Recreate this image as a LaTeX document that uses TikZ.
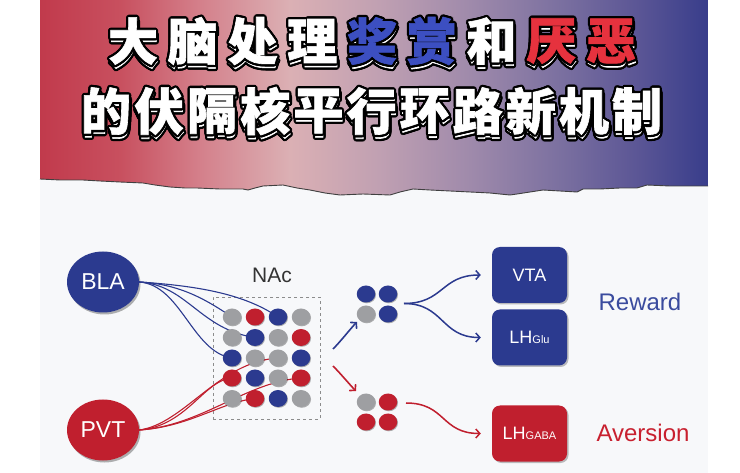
\documentclass[tikz,border=0pt]{standalone}
\usepackage{fontspec}
\setmainfont{Liberation Sans}
\newfontfamily\cjk{Noto Sans CJK SC}[BoldFeatures={FakeBold=1.2}]
\usetikzlibrary{arrows.meta,shadows,shapes.geometric}
\definecolor{bgc}{HTML}{F7F8FA}
\definecolor{hs1}{HTML}{C13A4C}
\definecolor{hs2}{HTML}{C8505F}
\definecolor{hs3}{HTML}{D4808B}
\definecolor{hs4}{HTML}{DBB0B4}
\definecolor{hs5}{HTML}{C0A0B2}
\definecolor{hs6}{HTML}{9F8AAB}
\definecolor{hs7}{HTML}{7B70A0}
\definecolor{hs8}{HTML}{5A5595}
\definecolor{hs9}{HTML}{383D8B}
\definecolor{nblue}{HTML}{2B3A8F}
\definecolor{nred}{HTML}{C01F2E}
\definecolor{ngray}{HTML}{9E9FA2}
\definecolor{tblue}{HTML}{3C4FC1}
\definecolor{tred}{HTML}{E6323E}
\definecolor{rwblue}{HTML}{3A4B9E}
\definecolor{avred}{HTML}{C8202F}
\pgfdeclarehorizontalshading{hdrshade}{100bp}{color(0bp)=(hs1); color(25bp)=(hs1); color(31bp)=(hs2); color(37bp)=(hs3); color(43.7bp)=(hs4); color(50.4bp)=(hs5); color(57.2bp)=(hs6); color(63.9bp)=(hs7); color(69.9bp)=(hs8); color(75bp)=(hs9); color(100bp)=(hs9)}
\newcommand\ttlshadow[3]{%
  \foreach \a in {0,30,...,330}{\path (#1,#2) ++(0.8,4) ++(\a:2.3) node[ttl,text=black]{#3};}
  \path (#1,#2) ++(0.8,4) node[ttl,text=white]{#3};}
\newcommand\ttlmain[4]{%
  \foreach \a in {0,30,...,330}{\path (#1,#2) ++(\a:2.3) node[ttl,text=black]{#4};}
  \path (#1,#2) node[ttl,text=#3]{#4};}
\begin{document}
\begin{tikzpicture}[x=1pt,y=-1pt,
  ttl/.style={font=\cjk\bfseries\fontsize{50}{50}\selectfont, inner sep=0pt, anchor=center},
  region/.style={ellipse, minimum width=72, minimum height=61, inner sep=0pt, text=white,
     font=\fontsize{23}{23}\selectfont,
     drop shadow={shadow xshift=1.5pt, shadow yshift=-2pt, opacity=0.3, fill=black}},
  dotn/.style={ellipse, minimum width=18.5, minimum height=17, inner sep=0pt,
     drop shadow={shadow xshift=0.8pt, shadow yshift=-0.8pt, opacity=0.3, fill=black}},
  gd/.style={dotn, fill=ngray},
  bd/.style={dotn, fill=nblue},
  rd/.style={dotn, fill=nred},
  target/.style={rounded corners=8pt, minimum width=75, minimum height=56, inner sep=0pt,
     text=white, font=\fontsize{18}{18}\selectfont,
     drop shadow={shadow xshift=1.5pt, shadow yshift=-1.5pt, opacity=0.25, fill=black}},
  bline/.style={draw=nblue, line width=1.1pt},
  rline/.style={draw=nred, line width=1.1pt},
  barr/.style={draw=nblue, line width=1.6pt, -{Straight Barb[length=4pt,width=9pt]}},
  rarr/.style={draw=nred, line width=1.6pt, -{Straight Barb[length=4pt,width=9pt]}},
  lbl/.style={font=\fontsize{24}{24}\selectfont, inner sep=0pt}
]
\useasboundingbox (0,0) rectangle (740,473);
\fill[white] (0,0) rectangle (740,473);
\fill[bgc] (40,0) rectangle (708,473);
% header
\shade[shading=hdrshade]
  (40,0) -- (708,0) -- (708,186) -- (690,186) -- (670,186) -- (647,185) -- (637,188) -- (620,188)
  -- (600,189) -- (583,189) -- (577,192) -- (560,191) -- (543,190) -- (530,192) -- (517,194)
  -- (510,195) -- (490,193) -- (470,192) -- (450,191) -- (430,190) -- (413,189) -- (400,192)
  -- (390,195) -- (363,194) -- (340,195) -- (325,193) -- (310,190) -- (297,188) -- (283,185)
  -- (263,186) -- (255,188) -- (248,190) -- (243,189) -- (220,189) -- (197,188) -- (185,188)
  -- (170,187) -- (155,185) -- (143,183) -- (120,182) -- (100,181) -- (83,180) -- (60,180)
  -- (40,179) -- cycle;
\draw[black!75, line width=0.9pt]
  (40,179) -- (60,180) -- (83,180) -- (100,181) -- (120,182) -- (143,183) -- (155,185)
  -- (170,187) -- (185,188) -- (197,188) -- (220,189) -- (243,189) -- (248,190) -- (255,188)
  -- (263,186) -- (283,185) -- (297,188) -- (310,190) -- (325,193) -- (340,195) -- (363,194)
  -- (390,195) -- (400,192) -- (413,189) -- (430,190) -- (450,191) -- (470,192) -- (490,193)
  -- (510,195) -- (517,194) -- (530,192) -- (543,190) -- (560,191) -- (577,192) -- (583,189)
  -- (600,189) -- (620,188) -- (637,188) -- (647,185) -- (670,186) -- (690,186) -- (708,186);
% title shadows
\foreach \ch/\xx in {大/133,脑/192.75,处/252.5,理/312.25,奖/372,赏/431.75,和/491.5,厌/551.25,恶/611}{\ttlshadow{\xx}{41}{\ch}}
\foreach \ch/\xx in {的/106,伏/159.1,隔/212.2,核/265.3,平/318.4,行/371.5,环/424.6,路/477.7,新/530.8,机/583.9,制/637}{\ttlshadow{\xx}{111}{\ch}}
% title main
\foreach \ch/\xx/\cl in {大/133/white,脑/192.75/white,处/252.5/white,理/312.25/white,奖/372/tblue,赏/431.75/tblue,和/491.5/white,厌/551.25/tred,恶/611/tred}{\ttlmain{\xx}{41}{\cl}{\ch}}
\foreach \ch/\xx in {的/106,伏/159.1,隔/212.2,核/265.3,平/318.4,行/371.5,环/424.6,路/477.7,新/530.8,机/583.9,制/637}{\ttlmain{\xx}{111}{white}{\ch}}
% regions
\node[region, fill=nblue] (BLA) at (103,282) {BLA};
\node[region, fill=nred] (PVT) at (103,430) {PVT};
% NAc
\node[draw=black!45, dashed, line width=0.8pt, minimum width=107, minimum height=122, inner sep=0pt] (NAcbox) at (266.5,358) {};
\node[font=\fontsize{21}{21}\selectfont, text=black!80, inner sep=0pt] (NAc) at (272,275) {NAc};
% dot positions
\foreach \r/\yy in {1/317,2/337.5,3/358,4/378,5/398.5}{
  \foreach \c/\xx in {1/232,2/255,3/278,4/301}{\coordinate (p\r\c) at (\xx,\yy);}}
% input curves
\draw[bline] (BLA.east) .. controls +(62,4) and +(-32,-22) .. (p13);
\draw[bline] (BLA.east) .. controls +(42,2) and +(-24,-16) .. (p11);
\draw[bline] (BLA.east) .. controls +(48,3) and +(-55,-8) .. (p22);
\draw[bline] (BLA.east) .. controls +(42,3) and +(-40,-6) .. (p31);
\draw[rline] (PVT.east) .. controls +(48,-4) and +(-28,2) .. (p41);
\draw[rline] (PVT.east) .. controls +(50,-3) and +(-35,4) .. (p52);
\draw[rline] (PVT.east) .. controls +(62,-4) and +(-55,4) .. (p44);
\draw[rline] (PVT.east) .. controls +(45,-6) and +(-60,4) .. (p33);
% dots
\node[gd] (d11) at (p11) {}; \node[rd] (d12) at (p12) {}; \node[bd] (d13) at (p13) {}; \node[gd] (d14) at (p14) {};
\node[gd] (d21) at (p21) {}; \node[bd] (d22) at (p22) {}; \node[gd] (d23) at (p23) {}; \node[rd] (d24) at (p24) {};
\node[bd] (d31) at (p31) {}; \node[gd] (d32) at (p32) {}; \node[gd] (d33) at (p33) {}; \node[bd] (d34) at (p34) {};
\node[rd] (d41) at (p41) {}; \node[bd] (d42) at (p42) {}; \node[gd] (d43) at (p43) {}; \node[rd] (d44) at (p44) {};
\node[gd] (d51) at (p51) {}; \node[rd] (d52) at (p52) {}; \node[bd] (d53) at (p53) {}; \node[gd] (d54) at (p54) {};
% clusters
\node[bd] (u11) at (366,294) {}; \node[bd] (u12) at (388,294) {};
\node[gd] (u21) at (366,314) {}; \node[bd] (u22) at (388,314) {};
\node[gd] (l11) at (366,402) {}; \node[rd] (l12) at (388,402) {};
\node[rd] (l21) at (366,422) {}; \node[rd] (l22) at (388,422) {};
% arrows from NAc
\coordinate (nb) at (333,349);
\coordinate (nr) at (333,366);
\draw[barr] (nb) .. controls +(8,-8) and +(-6,6) .. (357,322);
\draw[rarr] (nr) .. controls +(8,8) and +(-6,-6) .. (356,391);
% targets
\node[target, fill=nblue] (VTA) at (529.5,275) {VTA};
\node[target, fill=nblue] (LHG) at (529.5,337.5) {LH{\fontsize{11}{11}\selectfont Glu}};
\node[target, fill=nred] (LHA) at (529.5,433.5) {LH{\fontsize{11}{11}\selectfont GABA}};
\coordinate (us) at (404,303.5);
\coordinate (ls) at (406,403);
\draw[barr, line width=1.5pt] (us) .. controls +(40,0) and +(-40,0) .. ([xshift=-11pt]VTA.west);
\draw[barr, line width=1.5pt] (us) .. controls +(40,0) and +(-40,0) .. ([xshift=-11pt]LHG.west);
\draw[rarr, line width=1.5pt] (ls) .. controls +(40,0) and +(-40,0) .. ([xshift=-11pt]LHA.west);
% labels
\node[lbl, text=rwblue] (rew) at (640,302) {Reward};
\node[lbl, text=avred] (ave) at (643,433) {Aversion};
\end{tikzpicture}
\end{document}
